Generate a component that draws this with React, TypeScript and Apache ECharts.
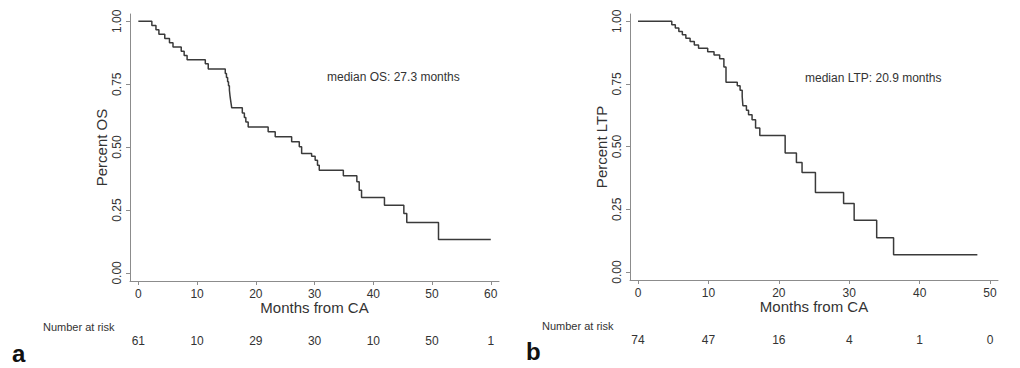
import React, { useEffect, useRef } from "react";
import * as echarts from "echarts";

// Kaplan-Meier curve a: overall survival (OS)
const osMonths = [0, 2.3, 3.0, 3.5, 4.5, 5.3, 5.9, 7.3, 7.8, 8.3, 11.4, 11.9, 14.8, 15.0, 15.2, 15.35, 15.5, 15.6, 15.7, 15.8, 15.9, 17.7, 18.05, 18.3, 18.7, 22.1, 23.3, 26.1, 27.4, 27.8, 29.5, 30.1, 30.5, 30.8, 34.9, 37.2, 37.6, 38.0, 41.9, 45.2, 45.7, 51.1, 60];
const osSurvival = [1, 0.983, 0.966, 0.949, 0.932, 0.915, 0.898, 0.881, 0.864, 0.847, 0.831, 0.81, 0.793, 0.777, 0.76, 0.744, 0.727, 0.705, 0.688, 0.672, 0.656, 0.636, 0.618, 0.6, 0.58, 0.561, 0.541, 0.521, 0.501, 0.475, 0.464, 0.448, 0.428, 0.408, 0.386, 0.362, 0.329, 0.3, 0.269, 0.236, 0.2, 0.133, 0.133];

// Kaplan-Meier curve b: local tumour progression (LTP)
const ltpMonths = [0, 4.8, 5.3, 5.8, 6.3, 6.8, 7.4, 8.0, 8.6, 9.9, 10.8, 11.6, 12.2, 12.5, 14.1, 14.5, 14.8, 14.9, 15.4, 15.7, 16.2, 16.7, 17.3, 20.9, 22.5, 23.3, 25.2, 29.2, 30.7, 33.9, 36.3, 48.2];
const ltpSurvival = [1, 0.986, 0.973, 0.959, 0.946, 0.932, 0.919, 0.905, 0.892, 0.878, 0.865, 0.851, 0.818, 0.757, 0.743, 0.725, 0.7, 0.663, 0.645, 0.627, 0.607, 0.574, 0.544, 0.475, 0.437, 0.397, 0.317, 0.273, 0.206, 0.137, 0.069, 0.069];

const osTicks = [0, 10, 20, 30, 40, 50, 60];
const ltpTicks = [0, 10, 20, 30, 40, 50];
const osAtRisk = [61, 10, 29, 30, 10, 50, 1];
const ltpAtRisk = [74, 47, 16, 4, 1, 0];
const yTicks = [0, 0.25, 0.5, 0.75, 1];

const FONT = "Liberation Sans, Arial, sans-serif";
const AXIS_COLOR = "#8c8c8c";
const TEXT_COLOR = "#333";

function pairs(xs: number[], ys: number[]) {
  return xs.map((x, i) => [x, ys[i]]);
}

export default function App() {
  const ref = useRef<HTMLDivElement>(null);

  useEffect(() => {
    if (!ref.current) return;
    const chart = echarts.init(ref.current, null, { renderer: "svg" });

    const mainX = (grid: number, min: number, max: number, ticks: number[]) => ({
      type: "value",
      gridIndex: grid,
      min,
      max,
      name: "Months from CA",
      nameLocation: "middle",
      nameGap: 19,
      nameMoveOverlap: false,
      nameTextStyle: { fontFamily: FONT, fontSize: 15, color: TEXT_COLOR },
      axisLine: { show: true, onZero: false, lineStyle: { color: AXIS_COLOR, width: 1 } },
      axisTick: { show: true, length: 4, customValues: ticks, lineStyle: { color: AXIS_COLOR } },
      axisLabel: {
        customValues: ticks,
        margin: 7,
        fontFamily: FONT,
        fontSize: 12,
        color: TEXT_COLOR,
      },
      splitLine: { show: false },
    });

    const riskX = (grid: number, min: number, max: number, ticks: number[], risk: number[]) => ({
      type: "value",
      gridIndex: grid,
      min,
      max,
      position: "bottom",
      offset: 50,
      axisLine: { show: false },
      axisTick: { show: false },
      axisLabel: {
        customValues: ticks,
        margin: 4,
        fontFamily: FONT,
        fontSize: 12,
        color: TEXT_COLOR,
        formatter: (v: number) => String(risk[Math.round(v / 10)]),
      },
      splitLine: { show: false },
    });

    const mainY = (grid: number, name: string) => ({
      type: "value",
      gridIndex: grid,
      min: -0.032,
      max: 1.029,
      name,
      nameLocation: "middle",
      nameGap: 21,
      nameMoveOverlap: false,
      nameTextStyle: { fontFamily: FONT, fontSize: 15, color: TEXT_COLOR },
      axisLine: { show: true, onZero: false, lineStyle: { color: AXIS_COLOR, width: 1 } },
      axisTick: { show: true, length: 4, customValues: yTicks, lineStyle: { color: AXIS_COLOR } },
      axisLabel: {
        customValues: yTicks,
        rotate: 90,
        margin: 7,
        fontFamily: FONT,
        fontSize: 12,
        color: TEXT_COLOR,
        formatter: (v: number) => v.toFixed(2),
      },
      splitLine: { show: false },
    });

    const curve = (idx: number, data: number[][]) => ({
      type: "line",
      xAxisIndex: idx,
      yAxisIndex: idx,
      step: "end",
      symbol: "none",
      data,
      lineStyle: { color: "#3a3a3a", width: 1.5 },
    });

    chart.setOption({
      animation: false,
      backgroundColor: "#ffffff",
      grid: [
        { left: 130, top: 14, width: 369, height: 267 },
        { left: 630, top: 14, width: 368, height: 266 },
      ],
      xAxis: [
        mainX(0, -1.42, 61.4, osTicks),
        mainX(1, -1.135, 51.13, ltpTicks),
        riskX(0, -1.42, 61.4, osTicks, osAtRisk),
        riskX(1, -1.135, 51.13, ltpTicks, ltpAtRisk),
      ],
      yAxis: [mainY(0, "Percent OS"), mainY(1, "Percent LTP")],
      series: [curve(0, pairs(osMonths, osSurvival)), curve(1, pairs(ltpMonths, ltpSurvival))],
      graphic: [
        {
          type: "text",
          left: 327,
          top: 71,
          style: { text: "median OS: 27.3 months", font: `12px ${FONT}`, fill: TEXT_COLOR },
        },
        {
          type: "text",
          left: 805,
          top: 72,
          style: { text: "median LTP: 20.9 months", font: `12px ${FONT}`, fill: TEXT_COLOR },
        },
        {
          type: "text",
          left: 43,
          top: 321,
          style: { text: "Number at risk", font: `11px ${FONT}`, fill: TEXT_COLOR },
        },
        {
          type: "text",
          left: 542,
          top: 320,
          style: { text: "Number at risk", font: `11px ${FONT}`, fill: TEXT_COLOR },
        },
        {
          type: "text",
          left: 12,
          top: 341,
          style: { text: "a", font: `bold 24px ${FONT}`, fill: "#111" },
        },
        {
          type: "text",
          left: 526,
          top: 339,
          style: { text: "b", font: `bold 24px ${FONT}`, fill: "#111" },
        },
      ],
    });

    return () => chart.dispose();
  }, []);

  return (
    <div
      ref={ref}
      style={{ position: "absolute", left: 0, top: 0, width: 1020, height: 368, background: "#fff" }}
    />
  );
}
